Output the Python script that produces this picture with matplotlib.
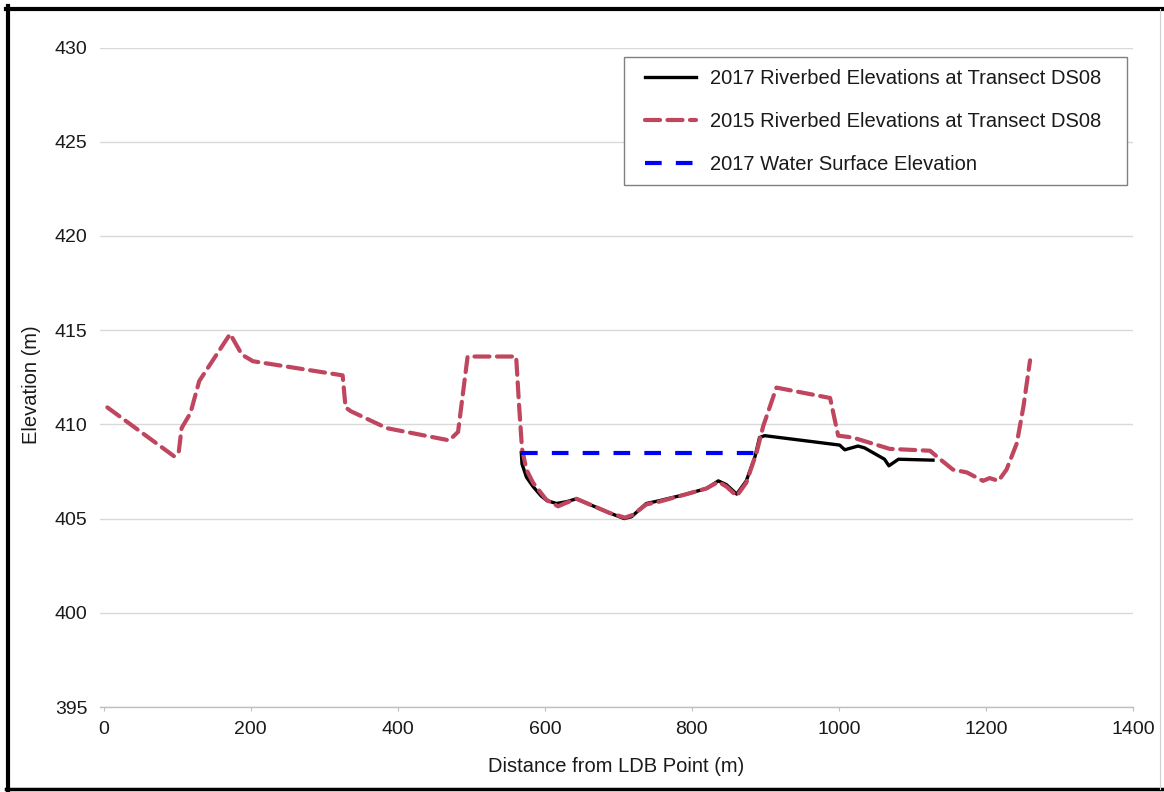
import matplotlib
matplotlib.use("Agg")
import matplotlib.pyplot as plt
from matplotlib.lines import Line2D
from matplotlib.patches import Rectangle

# Transect DS08 survey data
dist_2015 = [5, 96, 102, 106, 118, 130, 172, 188, 203, 325, 329, 336, 385, 470, 482,
             495, 561, 565, 569, 575, 584, 602, 618, 630, 643, 661, 688, 709, 720,
             738, 756, 793, 820, 836, 847, 861, 874, 888, 897, 915, 988, 999, 1019,
             1069, 1124, 1133, 1155, 1174, 1196, 1205, 1217, 1228, 1242, 1251, 1260]
elev_2015 = [410.9, 408.3, 408.5, 409.8, 410.6, 412.3, 414.8, 413.7, 413.35, 412.6,
             410.9, 410.7, 409.8, 409.15, 409.6, 413.6, 413.6, 411.0, 408.7, 407.6,
             406.9, 406.0, 405.65, 405.85, 406.05, 405.75, 405.3, 405.05, 405.2,
             405.75, 405.9, 406.3, 406.6, 406.95, 406.7, 406.2, 406.9, 408.5, 409.9,
             411.95, 411.4, 409.4, 409.3, 408.7, 408.6, 408.3, 407.6, 407.45, 407.0,
             407.15, 407.0, 407.6, 409.0, 410.95, 413.4]

dist_2017 = [568, 569, 575, 584, 595, 603, 616, 630, 643, 661, 688, 708, 718, 738,
             756, 793, 820, 836, 847, 861, 874, 886, 892, 899, 1001, 1008, 1026,
             1035, 1062, 1068, 1081, 1128]
elev_2017 = [408.5, 407.9, 407.2, 406.7, 406.2, 405.95, 405.8, 405.9, 406.05, 405.75,
             405.3, 405.0, 405.1, 405.8, 405.95, 406.3, 406.6, 407.0, 406.8, 406.3,
             407.0, 408.3, 409.3, 409.4, 408.9, 408.65, 408.85, 408.75, 408.15,
             407.8, 408.15, 408.1]

wse_dist = [568, 890]
wse_elev = [408.5, 408.5]

labels = ["2017 Riverbed Elevations at Transect DS08",
          "2015 Riverbed Elevations at Transect DS08",
          "2017 Water Surface Elevation"]

x_ticks = [0, 200, 400, 600, 800, 1000, 1200, 1400]
y_ticks = [395, 400, 405, 410, 415, 420, 425, 430]

plt.rcParams["font.family"] = ["Liberation Sans", "DejaVu Sans"]

W, H = 1164, 792
fig = plt.figure(figsize=(W / 100, H / 100), dpi=100)
ax = fig.add_axes([100 / W, 1 - 707 / H, 1033 / W, 659.5 / H])

ax.plot(dist_2017, elev_2017, color="black", lw=2.4, label=labels[0], zorder=3,
        solid_joinstyle="round")
ax.plot(dist_2015, elev_2015, color="#C0455E", lw=3.0, dashes=(3.6, 1.8),
        label=labels[1], zorder=4, dash_capstyle="round")
ax.plot(wse_dist, wse_elev, color="#0000FF", lw=3.0, dashes=(4.0, 3.4),
        label=labels[2], zorder=5)

ax.set_xlim(-5, 1400)
ax.set_ylim(395, 430)
ax.set_xticks(x_ticks)
ax.set_yticks(y_ticks)

ax.grid(axis="y", color="#d9d9d9", lw=1.0)
ax.set_axisbelow(True)
for side in ["top", "right", "left"]:
    ax.spines[side].set_visible(False)
ax.spines["bottom"].set_color("#bfbfbf")
ax.spines["bottom"].set_linewidth(1.0)

ax.tick_params(axis="y", length=0, pad=9, labelsize=14, labelcolor="#1a1a1a")
ax.tick_params(axis="x", length=3, width=0.8, color="#bfbfbf", pad=7,
               labelsize=14, labelcolor="#1a1a1a")

ax.set_xlabel("Distance from LDB Point (m)", fontsize=14.5, color="#1a1a1a", labelpad=14)
ax.set_ylabel("Elevation (m)", fontsize=14.5, color="#1a1a1a")
ax.yaxis.set_label_coords(-0.057, 0.488)

# legend box drawn as its own patch, entries placed inside it without a frame
box = Rectangle((624 / W, 1 - 185 / H), 503 / W, 128 / H,
                transform=fig.transFigure, facecolor="white",
                edgecolor="#808080", lw=1.0, zorder=6, clip_on=False)
ax.add_patch(box)
leg = ax.legend(loc="upper left", bbox_to_anchor=(645 / W, 1 - 69 / H),
                bbox_transform=fig.transFigure, borderaxespad=0, borderpad=0,
                fontsize=14.5, frameon=False, handlelength=2.55, handletextpad=0.7,
                labelspacing=1.2)
leg.set_zorder(7)
for t in leg.get_texts():
    t.set_color("#1a1a1a")

# outer frame
fig.add_artist(Line2D([8 / W, 8 / W], [0, 1 - 6 / H], transform=fig.transFigure,
                      color="black", lw=3.0))
fig.add_artist(Line2D([6 / W, 1], [1 - 9 / H, 1 - 9 / H], transform=fig.transFigure,
                      color="black", lw=3.0))
fig.add_artist(Line2D([6 / W, 1], [3 / H, 3 / H], transform=fig.transFigure,
                      color="black", lw=2.5))
fig.add_artist(Line2D([1160 / W, 1160 / W], [3 / H, 1 - 9 / H], transform=fig.transFigure,
                      color="#d0d0d0", lw=0.8))

fig.savefig("out.png", dpi=100, facecolor="white")
